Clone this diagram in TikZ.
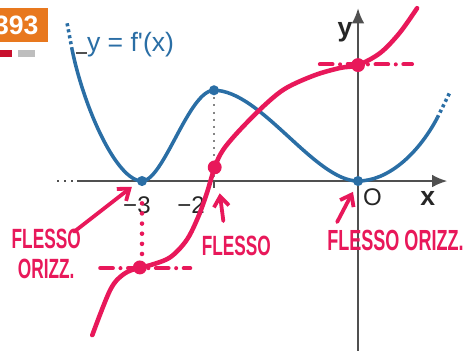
\documentclass[tikz,border=0pt]{standalone}
\usepackage{fontspec}
\setmainfont{Liberation Sans}
\newfontfamily\handfont[FakeStretch=0.62]{Liberation Sans}
\usepackage{tikz}
\usetikzlibrary{arrows.meta, positioning, calc}
\definecolor{curveblue}{RGB}{42, 110, 165}
\definecolor{inkpink}{RGB}{232, 24, 90}
\definecolor{axisgrey}{RGB}{80, 80, 80}
\definecolor{tagorange}{RGB}{232, 120, 30}
\definecolor{tagred}{RGB}{200, 16, 46}
\definecolor{taggrey}{RGB}{190, 190, 190}

\begin{document}
\begin{tikzpicture}[
    x=1cm, y=1cm,
    axis/.style={draw=axisgrey, line width=0.8pt},
    fcurve/.style={draw=curveblue, line width=1.4pt},
    fdots/.style={draw=curveblue, line width=1.4pt, dash pattern=on 1.2pt off 1.2pt},
    ink/.style={draw=inkpink, line width=1.8pt, line cap=round, line join=round},
    inkdash/.style={draw=inkpink, line width=1.6pt, line cap=round,
                    dash pattern=on 5pt off 3pt on 0pt off 3pt},
    inkdots/.style={draw=inkpink, line width=1.8pt, line cap=round, dash pattern=on 0pt off 4pt},
    inkarr/.style={draw=inkpink, line width=1.5pt, line cap=round,
                   -{Straight Barb[length=4pt, width=6pt]}},
    hand/.style={text=inkpink, font=\handfont\bfseries\fontsize{11}{12}\selectfont,
                 align=center, inner sep=0pt},
    ticklbl/.style={text=black!85, font=\fontsize{9.5}{10}\selectfont, inner sep=0pt},
    axlbl/.style={text=black!85, font=\bfseries\fontsize{10.5}{11}\selectfont, inner sep=0pt},
    bdot/.style={circle, fill=curveblue, inner sep=0pt, minimum size=4pt},
    pdot/.style={circle, fill=inkpink, inner sep=0pt, minimum size=5.5pt}
  ]
  \useasboundingbox (-4.972,-2.347) rectangle (1.583,2.514);

  % Tag in the corner
  \fill[tagorange] (-4.972,2.40) rectangle (-4.31,1.93);
  \begin{scope}
    \clip (-4.972,2.40) rectangle (-4.31,1.93);
    \node[text=white, font=\bfseries\fontsize{10.5}{11}\selectfont, anchor=east, inner sep=0pt]
          (tagnum) at (-4.43,2.165) {393};
  \end{scope}
  \fill[tagred] (-4.972,1.82) rectangle (-4.81,1.72);
  \fill[taggrey] (-4.72,1.82) rectangle (-4.49,1.72);

  % Axes
  \coordinate (m3) at (-3,0);
  \coordinate (m2) at (-2,0);
  \coordinate (orig) at (0,0);
  \draw[axis, dotted] (-4.18,0) -- (-3.9,0);
  \draw[axis, -{Latex[length=6pt, width=5pt]}] (-3.9,0) -- (1.24,0);
  \draw[axis, -{Latex[length=6pt, width=5pt]}] (0,-2.4) -- (0,2.40);
  \draw[axis] (m2) -- ++(0,-0.1);
  \node[ticklbl] (lm3) at (-3.07,-0.33) {−3};
  \node[ticklbl] (lm2) at (-2.32,-0.33) {−2};
  \node[ticklbl] (lo) at (0.2,-0.23) {O};
  \node[axlbl] (lx) at (0.97,-0.24) {x};
  \node[axlbl] (ly) at (-0.18,2.07) {y};

  % y = f'(x)
  \coordinate (pk) at (-2,1.26);
  \draw[axisgrey!70, line width=0.8pt, dotted] (pk) -- (m2);
  \draw[fdots] (-4.04,2.19) -- (-3.97,1.82);
  \draw[fcurve] (-3.97,1.82) .. controls (-3.8,1.0) and (-3.35,0) .. (m3)
        .. controls (-2.7,0) and (-2.35,1.26) .. (pk)
        .. controls (-1.35,1.26) and (-0.6,0) .. (orig)
        .. controls (0.4,0) and (0.82,0.35) .. (1.10,0.875);
  \draw[fdots] (1.10,0.875) -- (1.28,1.24);
  \node[bdot] at (m3) {};
  \node[bdot] at (pk) {};
  \node[bdot] at (orig) {};
  \node[text=curveblue, font=\fontsize{10.5}{11}\selectfont, anchor=west, inner sep=0pt]
        (flabel) at (-3.77,1.89) {y = f\textquotesingle(x)};
  \coordinate (lead) at (-3.91,1.78);
  \draw[axisgrey, line width=0.6pt] (lead) -- (lead -| flabel.west);

  % y = f(x), drawn by hand
  \draw[ink] plot[smooth, tension=0.55] coordinates {
        (-3.69,-2.14) (-3.44,-1.51) (-3.25,-1.29) (-3.03,-1.20)
        (-2.89,-1.17) (-2.61,-1.06) (-2.38,-0.82) (-2.22,-0.50) (-2.10,-0.17)
        (-1.99,0.19) (-1.875,0.43) (-1.64,0.71) (-1.29,1.06) (-1.0,1.29)
        (-0.6,1.47) (-0.25,1.57) (0,1.61) (0.31,1.78) (0.58,2.06) (0.82,2.40)};
  \coordinate (fl1) at (-3.03,-1.20);
  \coordinate (fl2) at (-1.99,0.19);
  \coordinate (fl3) at (0,1.61);
  \draw[inkdash] (-3.58,-1.21) -- (-2.33,-1.21);
  \draw[inkdots] (-3,-0.31) -- (-3,-1.12);
  \draw[inkdash] (-0.53,1.62) -- (0.75,1.62);
  \node[pdot] at (fl1) {};
  \node[pdot] at (fl2) {};
  \node[pdot] at (fl3) {};

  % Notes
  \node[hand] (note1) at (-4.33,-1.01) {FLESSO\\ORIZZ.};
  \node[hand] (note2) at (-1.69,-0.90) {FLESSO};
  \node[hand, font=\handfont\bfseries\fontsize{11.5}{12}\selectfont] (note3) at (0.52,-0.83) {FLESSO ORIZZ.};
  \draw[inkarr] ([shift={(-0.1,-0.05)}]note1.north east) -- ([shift={(-0.14,-0.08)}]m3);
  \draw[inkarr] ([shift={(-0.18,0.2)}]note2.north) -- ([shift={(0.08,-0.17)}]m2);
  \draw[inkarr] ([shift={(-0.29,-0.57)}]orig) -- ([shift={(-0.07,-0.15)}]orig);
\end{tikzpicture}
\end{document}
